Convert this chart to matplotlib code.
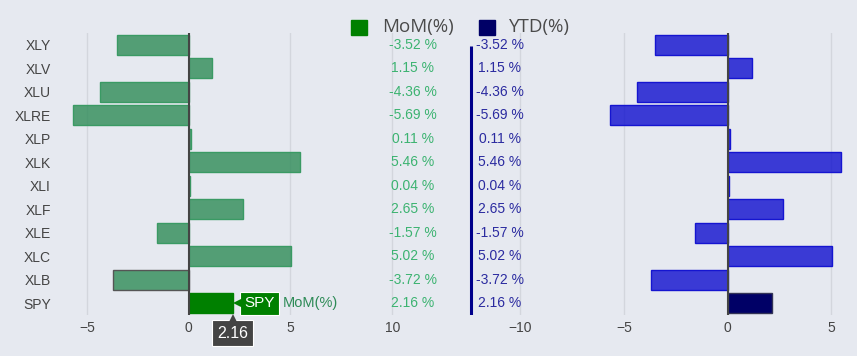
import matplotlib
matplotlib.use("Agg")
import matplotlib.pyplot as plt
from matplotlib.patches import Rectangle
from matplotlib.transforms import ScaledTranslation, blended_transform_factory

# ---- data ----
tickers = ["XLY", "XLV", "XLU", "XLRE", "XLP", "XLK", "XLI", "XLF", "XLE", "XLC", "XLB", "SPY"]
mom = [-3.52, 1.15, -4.36, -5.69, 0.11, 5.46, 0.04, 2.65, -1.57, 5.02, -3.72, 2.16]
ytd = [-3.52, 1.15, -4.36, -5.69, 0.11, 5.46, 0.04, 2.65, -1.57, 5.02, -3.72, 2.16]
left_ticks = [-5, 0, 5, 10]
right_ticks = [-10, -5, 0, 5]

BG = "#E6E9F0"
GRID = "#D3D6DD"
TXT = "#444444"
W, H = 857, 356

plt.rcParams["font.family"] = ["Liberation Sans", "DejaVu Sans"]
fig = plt.figure(figsize=(W / 100, H / 100), dpi=100, facecolor=BG)

top_px, bot_px = 33, 315
def px_axes(x0, x1):
    return fig.add_axes([x0 / W, (H - bot_px) / H, (x1 - x0) / W, (bot_px - top_px) / H])

axL = px_axes(62, 445)
axR = px_axes(462, 848)

n = len(tickers)
ypos = list(range(n))

def style(ax, xlim, ticks):
    ax.set_facecolor(BG)
    ax.set_xlim(*xlim)
    ax.set_ylim(n - 0.5, -0.5)
    for s in ax.spines.values():
        s.set_visible(False)
    ax.set_xticks(ticks)
    ax.set_xticklabels([("\u2212" + str(abs(t))) if t < 0 else str(t) for t in ticks])
    ax.tick_params(axis="x", length=0, pad=4, labelsize=10, labelcolor=TXT)
    ax.grid(axis="x", color=GRID, linewidth=1, zorder=0)
    ax.set_axisbelow(True)

style(axL, ((62 - 188.7) / 20.35, (445 - 188.7) / 20.35), left_ticks)
style(axR, ((462 - 727.7) / 20.73, (848 - 727.7) / 20.73), right_ticks)

axL.set_yticks(ypos)
axL.set_yticklabels(tickers)
axL.tick_params(axis="y", length=0, pad=8, labelsize=10, labelcolor=TXT)
axR.set_yticks([])

# ---- left bars (MoM) ----
lcols = [(46/255, 139/255, 87/255, 0.8)] * (n - 1) + ["#008000"]
ledges = ["#3A9A64"] * (n - 1) + ["#008000"]
ledges[tickers.index("XLB")] = "#555555"
axL.barh(ypos, mom, height=0.85, color=lcols, edgecolor=ledges, linewidth=1, zorder=2)
axL.axvline(0, color="#444444", linewidth=1.5, zorder=3)
for y, v in zip(ypos, mom):
    axL.text(11, y, f"{v:.2f} %", ha="center", va="center", fontsize=10, color="#3CB371")

# ---- right bars (YTD) ----
rcols = [(0, 0, 205/255, 0.75)] * (n - 1) + ["#000066"]
redges = ["#1515D0"] * (n - 1) + ["#333355"]
axR.barh(ypos, ytd, height=0.85, color=rcols, edgecolor=redges, linewidth=1, zorder=2)
axR.axvline(0, color="#444444", linewidth=1.5, zorder=3)
for y, v in zip(ypos, ytd):
    axR.text(-11, y, f"{v:.2f} %", ha="center", va="center", fontsize=10, color="#2B2BA0")
axR.vlines(-12.38, 0.05, n - 0.5, color="#00008B", linewidth=2.2, zorder=4)

# ---- legend ----
legend_items = [("MoM(%)", "#008000", 351, 382), ("YTD(%)", "#000066", 479, 509)]
for label, col, xpx, tx in legend_items:
    fig.patches.append(Rectangle((xpx / W, (H - 35) / H), 16 / W, 15 / H,
                                 transform=fig.transFigure, color=col))
    fig.text(tx / W, (H - 27) / H, label, ha="left", va="center",
             fontsize=13.5, color="#4a4a4a", family=["Open Sans", "DejaVu Sans"])

# ---- hover tooltip on SPY ----
def px(dx, dy=0):
    return ScaledTranslation(dx / 100, dy / 100, fig.dpi_scale_trans)

spy_i = tickers.index("SPY")
spy_v = mom[spy_i]
axL.plot([spy_v], [spy_i], marker="<", ms=7, color="#008000", mec="#008000", mew=0,
         transform=axL.transData + px(5), zorder=7, clip_on=False)
axL.text(spy_v, spy_i, "SPY", transform=axL.transData + px(11.5),
         ha="left", va="center", fontsize=11, color="white", zorder=6,
         bbox=dict(boxstyle="square,pad=0.28", fc="#008000", ec="white", lw=0.8))
axL.text(spy_v, spy_i, "MoM(%)", transform=axL.transData + px(50),
         ha="left", va="center", fontsize=10.5, color="#2E8B57", zorder=6)

bt = blended_transform_factory(axL.transData, axL.transAxes)
axL.text(spy_v, 0, f"{spy_v:.2f}", transform=bt + px(0, -18),
         ha="center", va="center", fontsize=11.5, color="white", zorder=8, clip_on=False,
         bbox=dict(boxstyle="square,pad=0.33", fc="#444444", ec="white", lw=0.8))
axL.plot([spy_v], [0], marker="^", ms=7, color="#444444", mec="#444444", mew=0,
         transform=bt + px(0, -4), zorder=9, clip_on=False)

fig.savefig("out.png", dpi=100, facecolor=BG)
